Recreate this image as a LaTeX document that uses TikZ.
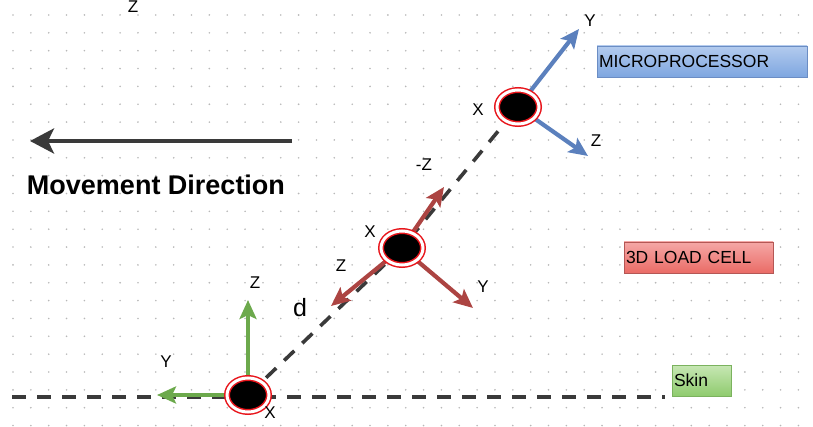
\documentclass[tikz,border=0pt]{standalone}
\usepackage{fontspec}
\setmainfont{Liberation Sans}
\usepackage{tikz}
\usetikzlibrary{arrows.meta, positioning, shapes.geometric, backgrounds}
\definecolor{inkgray}{HTML}{3A3A3A}
\definecolor{axblue}{HTML}{5B80BD}
\definecolor{axred}{HTML}{AC4442}
\definecolor{axgreen}{HTML}{6CA94C}
\definecolor{ringred}{HTML}{E8151B}
\definecolor{cputop}{HTML}{B3CBEE}
\definecolor{cpubot}{HTML}{7EA6E0}
\definecolor{celltop}{HTML}{F5A8A6}
\definecolor{cellbot}{HTML}{EA6B66}
\definecolor{skintop}{HTML}{C7E7B4}
\definecolor{skinbot}{HTML}{8FCB6E}

\begin{document}
\begin{tikzpicture}[
        x=1pt, y=-1pt,
        every node/.style={font=\fontsize{17}{19}\selectfont},
        ring/.style={ellipse, fill=black, draw=ringred, double=white, double distance=3pt, line width=1.5pt, minimum width=42pt, minimum height=34pt, inner sep=0pt},
        axis/.style={-{Stealth[length=19pt, width=17pt, inset=4pt]}, line width=4.2pt},
        dashline/.style={inkgray, line width=3.6pt, dash pattern=on 14pt off 11pt},
        tagbox/.style={draw, line width=0.8pt, minimum height=31pt, inner sep=2pt, align=left, font=\fontsize{17.5}{19}\selectfont}
    ]
        \useasboundingbox (0,0) rectangle (813,427);

        % sensor points
        \node[ring] (skinpt) at (248,395) {};
        \node[ring] (cellpt) at (402,248) {};
        \node[ring] (cpupt) at (518,107) {};

        % axis tips and free ends
        \coordinate (skinZ) at (248,300);
        \coordinate (skinY) at (157,395);
        \coordinate (cellnZ) at (444,187);
        \coordinate (cellZ) at (331,306);
        \coordinate (cellY) at (473,308);
        \coordinate (cpuY) at (579,29);
        \coordinate (cpuZ) at (588,156);
        \coordinate (skinL) at (12,397);
        \coordinate (skinR) at (665,397);
        \coordinate (moveS) at (292,141);
        \coordinate (moveE) at (30,141);

        \begin{pgfonlayer}{background}
            \foreach \i in {0,...,44}
                \foreach \j in {0,...,23}
                    \fill[black!28] (13+17.85*\i, 15+17.85*\j) circle (0.9);
            \draw[dashline] (skinL) -- (skinR);
            \draw[dashline] (skinpt.center) -- (cellpt.center) -- (cpupt.center);
            \draw[axis, axgreen] (skinpt.center) -- (skinZ);
            \draw[axis, axgreen] (skinpt.center) -- (skinY);
            \draw[axis, axred] (cellpt.center) -- (cellnZ);
            \draw[axis, axred] (cellpt.center) -- (cellZ);
            \draw[axis, axred] (cellpt.center) -- (cellY);
            \draw[axis, axblue] (cpupt.center) -- (cpuY);
            \draw[axis, axblue] (cpupt.center) -- (cpuZ);
        \end{pgfonlayer}

        \draw[-{Stealth[length=24pt, width=25pt, inset=6pt]}, inkgray, line width=4.8pt] (moveS) -- (moveE);
        \node[font=\fontsize{27}{29}\selectfont\bfseries] (movetxt) at (156,185) {Movement Direction};

        % axis labels
        \node[anchor=base, inner sep=0pt] (topZ) at (133,13) {Z};
        \node (cpuYl) at (590,21) {Y};
        \node (cpuZl) at (596,141) {Z};
        \node (cpuXl) at (478,110) {X};
        \node (cellnZl) at (424,165) {-Z};
        \node (cellXl) at (370,232) {X};
        \node (cellZl) at (341,266) {Z};
        \node (cellYl) at (483,287) {Y};
        \node (skinZl) at (255,283) {Z};
        \node (skinYl) at (166,362) {Y};
        \node (skinXl) at (270,413) {X};
        \node[font=\fontsize{25}{27}\selectfont] (dist) at (300,308) {d};

        % legend boxes
        \node[tagbox, draw=axblue!90, top color=cputop, bottom color=cpubot, text width=206pt] (cpubox) at (702,61.5) {MICROPROCESSOR};
        \node[tagbox, draw=axred!90, top color=celltop, bottom color=cellbot, text width=145pt] (cellbox) at (698.5,257.5) {3D LOAD CELL};
        \node[tagbox, draw=axgreen!90, top color=skintop, bottom color=skinbot, text width=55pt] (skinbox) at (701.5,380.5) {Skin};
\end{tikzpicture}
\end{document}
